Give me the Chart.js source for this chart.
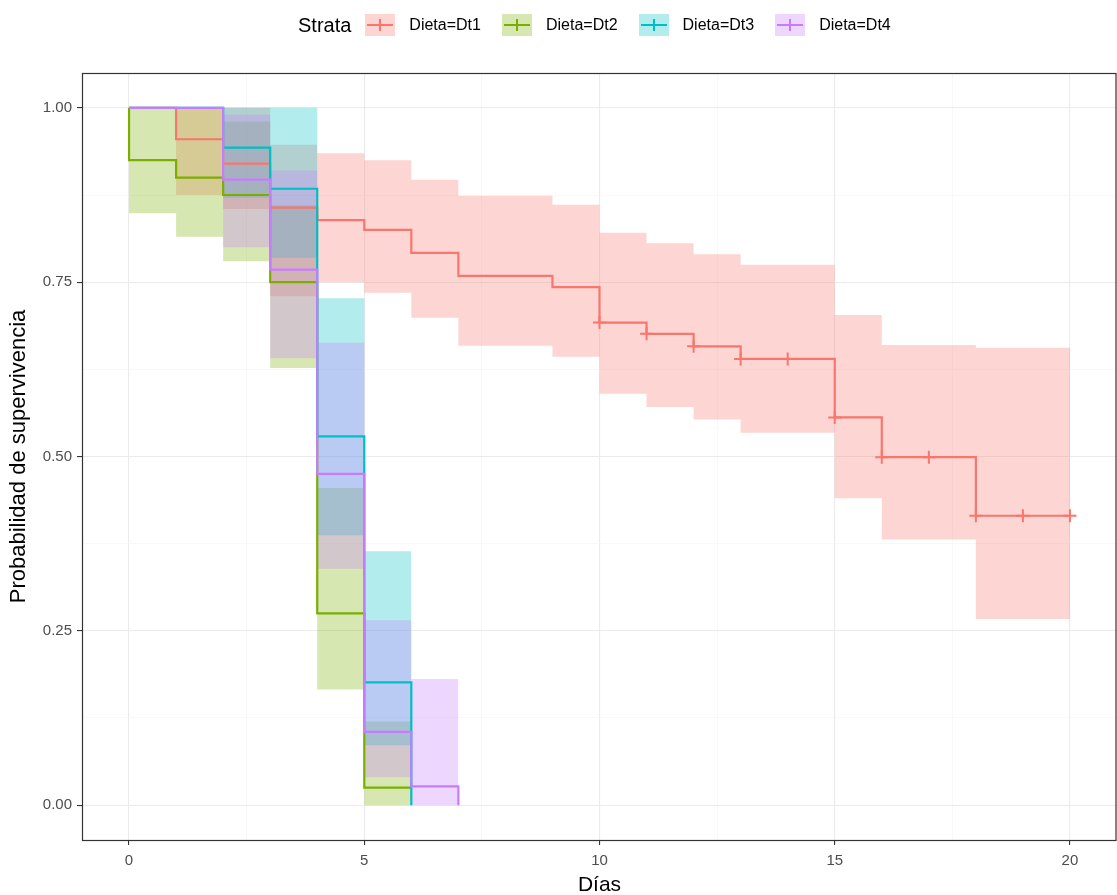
<!DOCTYPE html>
<html>
<head>
<meta charset="utf-8">
<script src="https://cdn.jsdelivr.net/npm/chart.js@4.4.1/dist/chart.umd.min.js"></script>
<style>
  html, body { margin: 0; padding: 0; background: #fff; }
  #wrap { position: relative; width: 1117px; height: 895px; overflow: hidden; }
  #legend {
    position: absolute; top: 13px; left: 298px; height: 24px;
    display: flex; align-items: center; white-space: nowrap;
    font-family: "Liberation Sans", Arial, sans-serif; color: #000;
  }
  #legend .title { font-size: 20px; margin-right: 14px; }
  #legend .key { position: relative; width: 30px; height: 22px; margin-right: 14px; }
  #legend .key .h { position: absolute; left: 2px; right: 2px; top: 10px; height: 2px; }
  #legend .key .v { position: absolute; left: 14px; width: 2px; top: 5px; height: 12px; }
  #legend .lab { font-size: 16px; margin-right: 21px; }
</style>
</head>
<body>
<div id="wrap">
  <canvas id="chart" width="1117" height="895"></canvas>
  <div id="legend"></div>
</div>
<script>
// Kaplan-Meier estimates (time in days)
const strata = ['Dieta=Dt1', 'Dieta=Dt2', 'Dieta=Dt3', 'Dieta=Dt4'];
const colors = ['#F8766D', '#7CAE00', '#00BFC4', '#C77CFF'];
const fills = ['rgba(248,118,109,0.3)', 'rgba(124,174,0,0.3)', 'rgba(0,191,196,0.3)', 'rgba(199,124,255,0.3)'];

const dt1Time  = [0, 1, 2, 3, 4, 5, 6, 7, 9, 10, 11, 12, 13, 15, 16, 18, 20];
const dt1Surv  = [1, 0.955, 0.92, 0.857, 0.839, 0.825, 0.792, 0.759, 0.743, 0.692, 0.676, 0.658, 0.640, 0.556, 0.499, 0.415, 0.415];
const dt1Upper = [1, 1, 1, 0.947, 0.935, 0.925, 0.897, 0.874, 0.861, 0.821, 0.806, 0.790, 0.775, 0.703, 0.660, 0.656, 0.656];
const dt1Lower = [1, 0.875, 0.855, 0.73, 0.75, 0.735, 0.699, 0.659, 0.643, 0.590, 0.571, 0.553, 0.534, 0.440, 0.381, 0.267, 0.267];
const dt1CensorTime = [10, 11, 12, 13, 14, 15, 16, 17, 18, 19, 20];
const dt1CensorSurv = [0.692, 0.676, 0.658, 0.640, 0.640, 0.556, 0.499, 0.499, 0.415, 0.415, 0.415];

const dt2Time  = [0, 0, 1, 2, 3, 4, 5, 6];
const dt2Surv  = [1, 0.925, 0.90, 0.875, 0.75, 0.275, 0.025, 0.025];
const dt2Upper = [1, 1, 1, 0.98, 0.86, 0.455, 0.12, 0.12];
const dt2Lower = [1, 0.849, 0.815, 0.78, 0.627, 0.166, 0, 0];

const dt3Time  = [0, 2, 3, 4, 5, 6];
const dt3Surv  = [1, 0.943, 0.884, 0.529, 0.176, 0];
const dt3Upper = [1, 1, 1, 0.727, 0.364, 0];
const dt3Lower = [1, 0.871, 0.785, 0.387, 0.086, 0];

const dt4Time  = [0, 2, 3, 4, 5, 6, 7];
const dt4Surv  = [1, 0.897, 0.768, 0.475, 0.105, 0.027, 0];
const dt4Upper = [1, 0.99, 0.91, 0.663, 0.265, 0.181, 0];
const dt4Lower = [1, 0.80, 0.641, 0.339, 0.04, 0, 0];

const xTicks = [0, 2.5, 5, 7.5, 10, 12.5, 15, 17.5, 20];
const yTicks = [0, 0.125, 0.25, 0.375, 0.5, 0.625, 0.75, 0.875, 1];

const series = [
    { time: dt1Time, surv: dt1Surv, upper: dt1Upper, lower: dt1Lower },
    { time: dt2Time, surv: dt2Surv, upper: dt2Upper, lower: dt2Lower },
    { time: dt3Time, surv: dt3Surv, upper: dt3Upper, lower: dt3Lower },
    { time: dt4Time, surv: dt4Surv, upper: dt4Upper, lower: dt4Lower }
];

function pts(xs, ys) {
    return xs.map((x, i) => ({ x: x, y: ys[i] }));
}

// lower order is drawn on top, so Dt4 ends up above Dt1 like in ggplot
const datasets = [];
series.forEach((s, i) => {
    datasets.push({
        label: strata[i],
        data: pts(s.time, s.surv),
        stepped: 'before',
        borderColor: colors[i],
        borderWidth: 2.2,
        pointRadius: 0,
        fill: false,
        order: 1.5 - i * 0.1
    });
    datasets.push({
        label: strata[i] + ' upper',
        data: pts(s.time, s.upper),
        stepped: 'before',
        borderColor: 'transparent',
        borderWidth: 0,
        pointRadius: 0,
        fill: false,
        order: 3 - i * 0.1
    });
    datasets.push({
        label: strata[i] + ' lower',
        data: pts(s.time, s.lower),
        stepped: 'before',
        borderColor: 'transparent',
        borderWidth: 0,
        pointRadius: 0,
        backgroundColor: fills[i],
        fill: '-1',
        order: 3 - i * 0.1
    });
});
datasets.push({
    type: 'scatter',
    label: 'censor',
    data: pts(dt1CensorTime, dt1CensorSurv),
    pointStyle: 'cross',
    pointRadius: 6.5,
    borderWidth: 2,
    borderColor: colors[0],
    order: 0
});

// legend as html
const legend = document.getElementById('legend');
legend.innerHTML = '<span class="title">Strata</span>' + strata.map((s, i) =>
    `<span class="key" style="background:${fills[i]}"><span class="h" style="background:${colors[i]}"></span><span class="v" style="background:${colors[i]}"></span></span><span class="lab">${s}</span>`
).join('');

const isMajorX = v => Math.abs(v % 5) < 1e-9;
const isMajorY = v => Math.abs(v * 4 - Math.round(v * 4)) < 1e-9;

const panelBorder = {
    id: 'panelBorder',
    afterDatasetsDraw(chart) {
        const { ctx, chartArea: a } = chart;
        ctx.save();
        ctx.strokeStyle = '#333333';
        ctx.lineWidth = 1.2;
        ctx.strokeRect(a.left + 0.5, a.top + 0.5, Math.min(a.right, 1116) - a.left - 0.5, a.bottom - a.top);
        ctx.restore();
    }
};

Chart.defaults.font.family = '"Liberation Sans", Arial, sans-serif';

new Chart(document.getElementById('chart').getContext('2d'), {
    type: 'line',
    data: { datasets: datasets },
    options: {
        responsive: false,
        animation: false,
        layout: { autoPadding: false, padding: { top: 73, left: 0, right: -2, bottom: 0 } },
        plugins: { legend: { display: false }, tooltip: { enabled: false } },
        scales: {
            x: {
                type: 'linear',
                min: -1,
                max: 21,
                afterBuildTicks: s => { s.ticks = xTicks.map(v => ({ value: v })); },
                afterFit: s => { s.height = 55; s.paddingLeft = 0; s.paddingRight = 0; },
                ticks: {
                    autoSkip: false,
                    maxRotation: 0,
                    padding: 7,
                    color: '#4d4d4d',
                    font: { size: 15 },
                    callback: v => isMajorX(v) ? String(v) : ''
                },
                grid: {
                    color: c => isMajorX(c.tick.value) ? '#ebebeb' : '#f5f5f5',
                    lineWidth: c => isMajorX(c.tick.value) ? 1.1 : 0.7,
                    tickLength: 5,
                    tickWidth: 1.1,
                    tickColor: c => isMajorX(c.tick.value) ? '#333333' : 'rgba(0,0,0,0)'
                },
                border: { display: false },
                title: { display: true, text: 'Días', color: '#000', font: { size: 21 }, padding: { top: 0, bottom: -3 } }
            },
            y: {
                type: 'linear',
                min: -0.05,
                max: 1.05,
                afterBuildTicks: s => { s.ticks = yTicks.map(v => ({ value: v })); },
                afterFit: s => { s.width = 82; s.paddingTop = 0; s.paddingBottom = 0; },
                ticks: {
                    autoSkip: false,
                    padding: 5,
                    color: '#4d4d4d',
                    font: { size: 15 },
                    callback: v => isMajorY(v) ? v.toFixed(2) : ''
                },
                grid: {
                    color: c => isMajorY(c.tick.value) ? '#ebebeb' : '#f5f5f5',
                    lineWidth: c => isMajorY(c.tick.value) ? 1.1 : 0.7,
                    tickLength: 5,
                    tickWidth: 1.1,
                    tickColor: c => isMajorY(c.tick.value) ? '#333333' : 'rgba(0,0,0,0)'
                },
                border: { display: false },
                title: { display: true, text: 'Probabilidad de supervivencia', color: '#000', font: { size: 22 }, padding: { top: 6, bottom: 0 } }
            }
        }
    },
    plugins: [panelBorder]
});
</script>
</body>
</html>
